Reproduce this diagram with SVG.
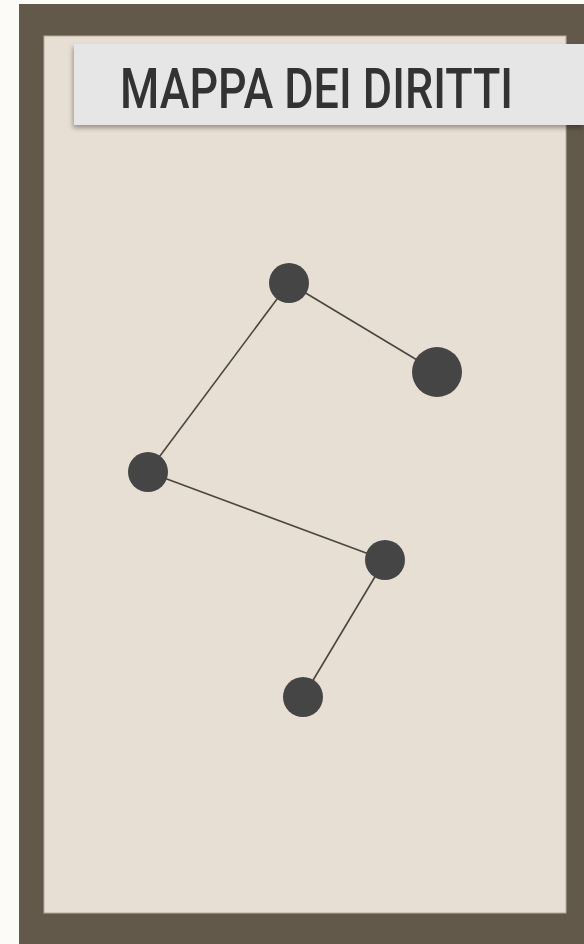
<svg xmlns="http://www.w3.org/2000/svg" width="584" height="944" viewBox="0 0 584 944">
<style>
.node{fill:#454545;filter:url(#soft)}
.edge{stroke:#4a4540;stroke-width:1.6;fill:none}
.title{font-family:"Roboto","Liberation Sans",sans-serif;font-size:56px;fill:#333333;font-weight:500}
</style>
<defs>
<filter id="soft" x="-20%" y="-20%" width="140%" height="140%"><feGaussianBlur stdDeviation="0.7"/></filter>
<filter id="shadow" x="-10%" y="-20%" width="120%" height="150%"><feDropShadow dx="-1" dy="3" stdDeviation="2.5" flood-color="#000" flood-opacity="0.35"/></filter>
</defs>
<rect x="0" y="0" width="584" height="944" fill="#fdfbf7"/>
<rect x="19" y="4" width="565" height="940" fill="#63594b"/>
<rect x="44" y="36" width="522" height="877" fill="#e8dfd4" stroke="#b5ab9e" stroke-width="1"/>
<g id="title">
<rect x="74" y="44" width="510" height="81" fill="#e6e6e6" filter="url(#shadow)"/>
<text class="title" x="120" y="108" textLength="393" lengthAdjust="spacingAndGlyphs">MAPPA DEI DIRITTI</text>
</g>
<g id="connectors">
<line class="edge" x1="289" y1="283" x2="437" y2="372"/>
<line class="edge" x1="289" y1="283" x2="148" y2="472"/>
<line class="edge" x1="148" y1="472" x2="385" y2="560"/>
<line class="edge" x1="385" y1="560" x2="303" y2="697"/>
</g>
<g id="node-a"><circle class="node" cx="289" cy="283" r="20"/></g>
<g id="node-b"><circle class="node" cx="437" cy="372" r="25"/></g>
<g id="node-c"><circle class="node" cx="148" cy="472" r="20"/></g>
<g id="node-d"><circle class="node" cx="385" cy="560" r="20"/></g>
<g id="node-e"><circle class="node" cx="303" cy="697" r="20"/></g>
</svg>
